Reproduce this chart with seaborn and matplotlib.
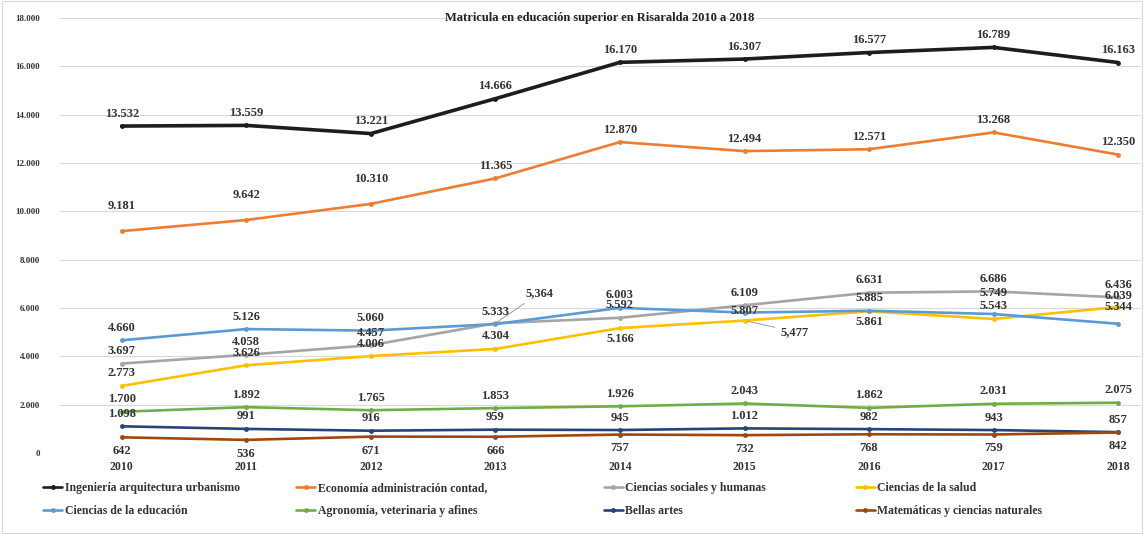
import pandas as pd
import matplotlib
matplotlib.use("Agg")
import matplotlib.pyplot as plt
import matplotlib.ticker as mticker
import seaborn as sns

years = ["2010", "2011", "2012", "2013", "2014", "2015", "2016", "2017", "2018"]

ingenieria = [13532, 13559, 13221, 14666, 16170, 16307, 16577, 16789, 16163]
economia = [9181, 9642, 10310, 11365, 12870, 12494, 12571, 13268, 12350]
sociales = [3697, 4058, 4457, 5364, 5592, 6109, 6631, 6686, 6436]
salud = [2773, 3626, 4006, 4304, 5166, 5477, 5861, 5543, 6039]
educacion = [4660, 5126, 5060, 5333, 6003, 5807, 5885, 5749, 5344]
agronomia = [1700, 1892, 1765, 1853, 1926, 2043, 1862, 2031, 2075]
bellas = [1098, 991, 916, 959, 945, 1012, 982, 943, 857]
matematicas = [642, 536, 671, 666, 757, 732, 768, 759, 842]

names = [
    "Ingeniería arquitectura urbanismo",
    "Economía administración contad,",
    "Ciencias sociales y humanas",
    "Ciencias de la salud",
    "Ciencias de la educación",
    "Agronomía, veterinaria y afines",
    "Bellas artes",
    "Matemáticas y ciencias naturales",
]
series = [ingenieria, economia, sociales, salud, educacion, agronomia, bellas, matematicas]
colors = ["#1c1c24", "#ED7D31", "#A5A5A5", "#FFC000",
          "#5B9BD5", "#70AD47", "#264478", "#9E480E"]

rows = []
for n, vals in zip(names, series):
    for i, v in enumerate(vals):
        rows.append({"year": i, "serie": n, "valor": v})
df = pd.DataFrame(rows)

sns.set_style("white")
plt.rcParams["font.family"] = ["Liberation Serif", "DejaVu Serif"]

fig = plt.figure(figsize=(11.44, 5.34), dpi=100)
ax = fig.add_axes([0.052, 0.152, 0.945, 0.814])

sns.lineplot(data=df, x="year", y="valor", hue="serie", hue_order=names,
             palette=dict(zip(names, colors)), style="serie",
             markers=dict(zip(names, ["o"] * 8)), dashes=False,
             markersize=3.5, markeredgewidth=0, linewidth=1.9, ax=ax, legend=True)
ax.lines[0].set_linewidth(2.6)

# label offsets (points); default above
offsets = {n: [(0, 9)] * 9 for n in names}
offsets[names[1]] = [(0, 18), (0, 18), (0, 18)] + [(0, 9)] * 6
offsets[names[7]] = [(0, -10)] * 9
offsets[names[3]] = list(offsets[names[3]])
offsets[names[3]][4] = (0, -8)
offsets[names[3]][6] = (0, -8)
offsets[names[3]][8] = (0, 8)
offsets[names[4]] = list(offsets[names[4]])
offsets[names[4]][5] = (0, 1)
offsets[names[4]][7] = (0, 15)
offsets[names[4]][8] = (0, 12)

def fmt(v):
    return f"{v:,}".replace(",", ".")

for n, vals in zip(names, series):
    for i, v in enumerate(vals):
        if n == names[2] and i == 3:
            ax.annotate("5,364", xy=(i, v), xytext=(22, 22), textcoords="offset points",
                        fontsize=9, fontweight="bold", color="#333333", va="center",
                        arrowprops=dict(arrowstyle="-", color="#999999", lw=0.7))
            continue
        if n == names[3] and i == 5:
            ax.annotate("5,477", xy=(i, v), xytext=(26, -8), textcoords="offset points",
                        fontsize=9, fontweight="bold", color="#333333", va="center",
                        arrowprops=dict(arrowstyle="-", color="#999999", lw=0.7))
            continue
        dx, dy = offsets[n][i]
        ax.annotate(fmt(v), xy=(i, v), xytext=(dx, dy), textcoords="offset points",
                    ha="center", va="center", fontsize=9, fontweight="bold",
                    color="#333333")

ax.set_ylim(0, 18000)
ax.set_xlim(-0.5, 8.18)
ax.set_yticks(range(0, 18001, 2000))
ax.yaxis.set_major_formatter(mticker.FuncFormatter(lambda v, p: fmt(int(v))))
ax.set_xticks(range(9))
ax.set_xticklabels(years)
ax.tick_params(axis="x", length=0, labelsize=8.5, pad=6)
ax.tick_params(axis="y", length=0, labelsize=6.5, pad=14)
for lab in ax.get_xticklabels() + ax.get_yticklabels():
    lab.set_fontweight("bold")
    lab.set_color("#333333")
ax.grid(axis="y", color="#d9d9d9", linewidth=0.8)
ax.set_axisbelow(True)
for s in ax.spines.values():
    s.set_visible(False)
ax.set_xlabel("")
ax.set_ylabel("")
ax.set_title("Matricula en educación superior en Risaralda 2010 a 2018",
             fontsize=9, fontweight="bold", color="#222222", y=0.975)

handles, labels = ax.get_legend_handles_labels()
ax.get_legend().remove()
col_x = [0.038, 0.259, 0.528, 0.748]
for c, x in enumerate(col_x):
    leg = fig.legend([handles[c], handles[c + 4]], [labels[c], labels[c + 4]],
                     loc="upper left", bbox_to_anchor=(x, 0.098), frameon=False,
                     labelspacing=0.95, handlelength=1.6,
                     handletextpad=0.2, borderaxespad=0, borderpad=0,
                     prop={"weight": "bold", "size": 8.5})
    for t in leg.get_texts():
        t.set_color("#333333")

fig.patches.append(plt.Rectangle((0.002, 0.002), 0.996, 0.996, transform=fig.transFigure,
                                 fill=False, edgecolor="#d9d9d9", lw=0.8))
fig.savefig("out.png", dpi=100)
